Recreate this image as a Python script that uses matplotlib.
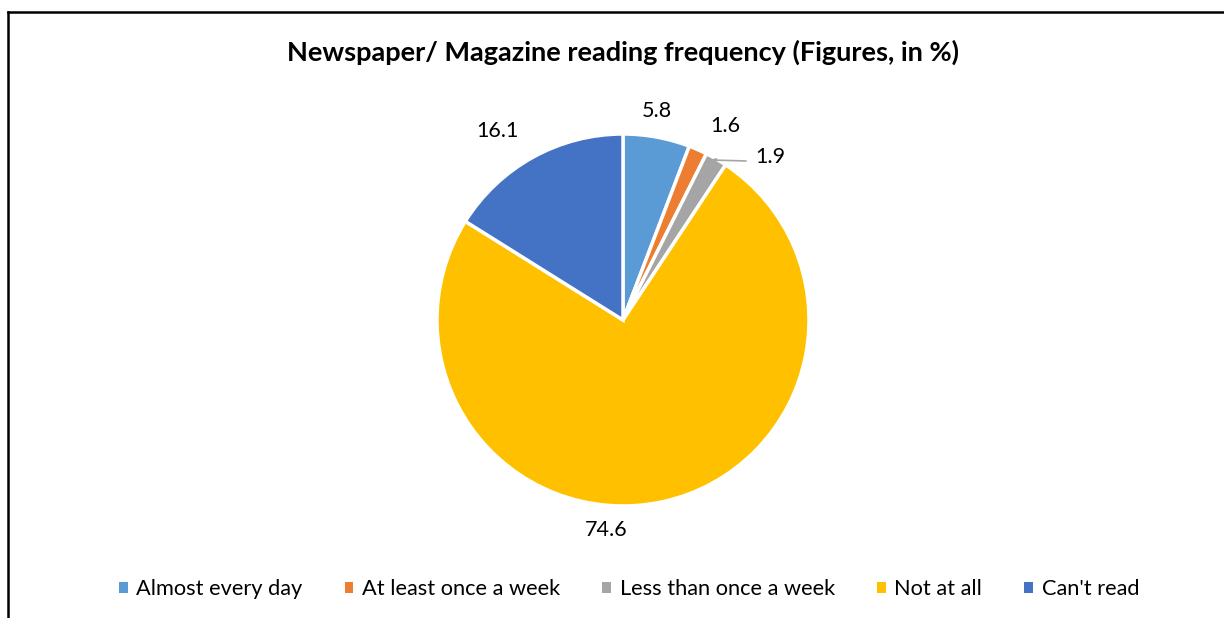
import numpy as np
import matplotlib
matplotlib.use("Agg")
import matplotlib.pyplot as plt
from matplotlib.lines import Line2D
from matplotlib.patches import Patch

plt.rcParams['font.family'] = ['Lato', 'DejaVu Sans']

# reading frequency shares, in %
categories = ["Almost every day", "At least once a week", "Less than once a week", "Not at all", "Can't read"]
values = [5.8, 1.6, 1.9, 74.6, 16.1]
colors = ["#5B9BD5", "#ED7D31", "#A5A5A5", "#FFC000", "#4472C4"]

# label placement: (angle in degrees, distance from centre in radii)
label_pos = [(80.8, 1.14), (62.3, 1.18), (47.8, 1.18), (-94.6, 1.13), (123.7, 1.22)]

W, H = 1224, 618
fig = plt.figure(figsize=(W / 100, H / 100), dpi=100)

# outer frame (top and left edges visible)
fig.add_artist(Line2D([8 / W, 8 / W], [0, 1 - 12 / H], transform=fig.transFigure, color="black", lw=1.8))
fig.add_artist(Line2D([8 / W, 1], [1 - 12 / H, 1 - 12 / H], transform=fig.transFigure, color="black", lw=1.8))

fig.text(623 / W, 1 - 52 / H, "Newspaper/ Magazine reading frequency (Figures, in %)",
         ha="center", va="center", fontsize=19.5, fontweight="bold", color="black")

cx, cy, R = 623, 320, 186
ax = fig.add_axes([(cx - R) / W, (H - cy - R) / H, 2 * R / W, 2 * R / H])
wedges, _ = ax.pie(values, colors=colors, startangle=90, counterclock=False,
                   wedgeprops=dict(edgecolor="white", linewidth=2.5), radius=1)
ax.set_xlim(-1, 1)
ax.set_ylim(-1, 1)
ax.set_aspect("auto")
ax.axis("off")

for v, (ang, d) in zip(values, label_pos):
    a = np.radians(ang)
    ax.text(d * np.cos(a), d * np.sin(a), f"{v:.1f}", ha="center", va="center",
            fontsize=15.5, color="#000000", clip_on=False)

# leader line for the small grey slice
start = 90 - (values[0] + values[1] + values[2] / 2) * 3.6
sa = np.radians(start)
ax.plot([np.cos(sa), 0.48, 0.66], [np.sin(sa), 0.86, 0.855], color="#A5A5A5", lw=1.2, clip_on=False)

handles = [Patch(facecolor=c, edgecolor="none") for c in colors]
fig.legend(handles, categories, loc="center", bbox_to_anchor=(629 / W, 1 - 589 / H), ncol=5,
           frameon=False, fontsize=15.7, handlelength=0.4, handleheight=0.4,
           handletextpad=0.4, columnspacing=1.93)

fig.savefig("out.png", dpi=100, facecolor="white")
